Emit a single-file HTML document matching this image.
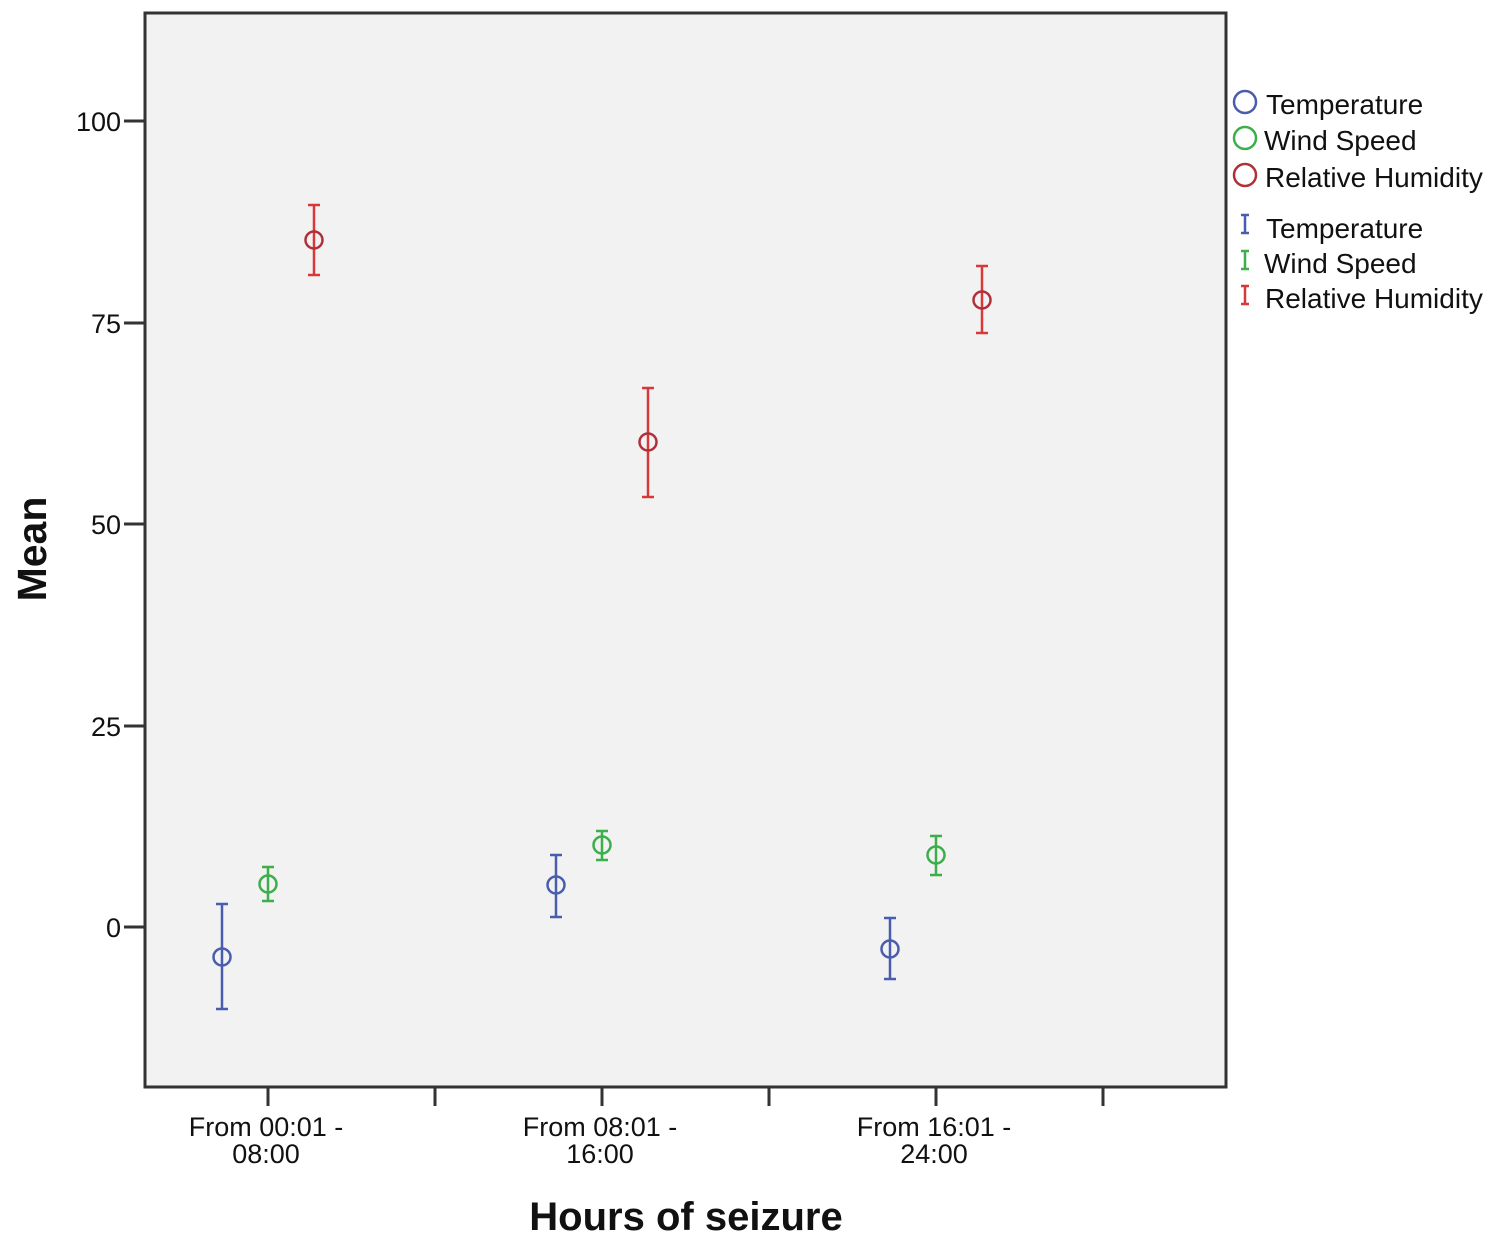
<!DOCTYPE html>
<html><head><meta charset="utf-8"><style>body{margin:0;background:#fff}svg{display:block}</style></head><body>
<svg width="1500" height="1247" xmlns="http://www.w3.org/2000/svg" font-family="Liberation Sans, sans-serif">
<rect width="1500" height="1247" fill="#fff"/>
<rect x="145" y="13" width="1081" height="1074" fill="#f2f2f2" stroke="#333" stroke-width="3"/>
<g stroke="#333" stroke-width="3">
<line x1="124" y1="121" x2="145" y2="121"/><line x1="124" y1="323" x2="145" y2="323"/><line x1="124" y1="524" x2="145" y2="524"/><line x1="124" y1="726" x2="145" y2="726"/><line x1="124" y1="927" x2="145" y2="927"/>
<line x1="268" y1="1087" x2="268" y2="1106"/><line x1="435" y1="1087" x2="435" y2="1106"/><line x1="602" y1="1087" x2="602" y2="1106"/><line x1="769" y1="1087" x2="769" y2="1106"/><line x1="936" y1="1087" x2="936" y2="1106"/><line x1="1103" y1="1087" x2="1103" y2="1106"/>
</g>
<g font-size="27" fill="#111" text-anchor="end">
<text x="121" y="131">100</text><text x="121" y="333">75</text><text x="121" y="534">50</text><text x="121" y="736">25</text><text x="121" y="937">0</text>
</g>
<g font-size="27" fill="#111" text-anchor="middle">
<text x="266" y="1136">From 00:01 -</text><text x="266" y="1163">08:00</text>
<text x="600" y="1136">From 08:01 -</text><text x="600" y="1163">16:00</text>
<text x="934" y="1136">From 16:01 -</text><text x="934" y="1163">24:00</text>
</g>
<text x="686" y="1230" font-size="40" font-weight="bold" text-anchor="middle" fill="#111">Hours of seizure</text>
<text transform="translate(46,549) rotate(-90)" font-size="41" font-weight="bold" text-anchor="middle" fill="#111">Mean</text>
<g fill="none" stroke-width="2.5">
<g stroke="#4a5cae">
<path d="M222 904V1009M216 904H228M216 1009H228"/><circle cx="222" cy="957" r="8.5"/>
<path d="M556 855V917M550 855H562M550 917H562"/><circle cx="556" cy="885" r="8.5"/>
<path d="M890 918V979M884 918H896M884 979H896"/><circle cx="890" cy="949" r="8.5"/>
</g>
<g stroke="#3cae4a">
<path d="M268 867V901M262 867H274M262 901H274"/><circle cx="268" cy="884" r="8.5"/>
<path d="M602 831V860M596 831H608M596 860H608"/><circle cx="602" cy="845" r="8.5"/>
<path d="M936 836V875M930 836H942M930 875H942"/><circle cx="936" cy="855" r="8.5"/>
</g>
<g stroke="#d8383a">
<path d="M314 205V275M308 205H320M308 275H320"/>
<path d="M648 388V497M642 388H654M642 497H654"/>
<path d="M982 266V333M976 266H988M976 333H988"/>
</g>
<g stroke="#b0303a">
<circle cx="314" cy="240" r="8.5"/><circle cx="648" cy="442" r="8.5"/><circle cx="982" cy="300" r="8.5"/>
</g>
<circle cx="1245" cy="102" r="11" stroke="#4a5cae"/>
<circle cx="1245" cy="138" r="11" stroke="#3cae4a"/>
<circle cx="1245" cy="175" r="11" stroke="#b0303a"/>
<path d="M1245 215V233M1241 215H1249M1241 233H1249" stroke="#4a5cae"/>
<path d="M1245 251V269M1241 251H1249M1241 269H1249" stroke="#3cae4a"/>
<path d="M1245 286V304M1241 286H1249M1241 304H1249" stroke="#d8383a"/>
</g>
<g font-size="28" fill="#111">
<text x="1266" y="114">Temperature</text><text x="1264" y="150">Wind Speed</text><text x="1265" y="187">Relative Humidity</text>
<text x="1266" y="238">Temperature</text><text x="1264" y="273">Wind Speed</text><text x="1265" y="308">Relative Humidity</text>
</g>
</svg>
</body></html>
